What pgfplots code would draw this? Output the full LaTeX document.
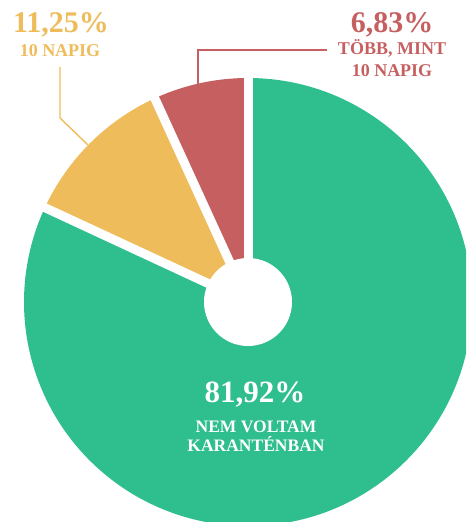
\documentclass[border=0pt]{standalone}
\usepackage{pgfplots}
\pgfplotsset{compat=1.18}
\usepackage{fontspec}
\setmainfont{Liberation Serif}
\definecolor{cgreen}{RGB}{47,190,142}
\definecolor{cyellow}{RGB}{239,188,91}
\definecolor{cred}{RGB}{198,96,96}
\begin{document}
\begin{tikzpicture}
\begin{axis}[x=1pt,y=1pt,xmin=0,xmax=466,ymin=0,ymax=522,hide axis,clip=true,anchor=origin,at={(0,0)}]
% shares (percent): 81.92, 11.25, 6.83 ; start at 90 deg, clockwise
\def\cx{248}\def\cy{220}\def\R{224pt}
\pgfmathsetmacro{\aA}{90}
\pgfmathsetmacro{\aB}{90-81.92*3.6}
\pgfmathsetmacro{\aC}{\aB-11.25*3.6}
\pgfmathsetmacro{\aD}{\aC-6.83*3.6}
\fill[cgreen] (axis cs:\cx,\cy) -- ++(\aA:\R) arc[start angle=\aA,end angle=\aB,radius=\R] -- cycle;
\fill[cyellow] (axis cs:\cx,\cy) -- ++(\aB:\R) arc[start angle=\aB,end angle=\aC,radius=\R] -- cycle;
\fill[cred] (axis cs:\cx,\cy) -- ++(\aC:\R) arc[start angle=\aC,end angle=\aD,radius=\R] -- cycle;
\draw[white,line width=9pt] (axis cs:\cx,\cy) -- ++(\aA:240pt);
\draw[white,line width=9pt] (axis cs:\cx,\cy) -- ++(\aB:240pt);
\draw[white,line width=9pt] (axis cs:\cx,\cy) -- ++(\aC:240pt);
\fill[white] (axis cs:\cx,\cy) circle[radius=44pt];
% leader lines
\draw[cyellow,line width=1.4pt] (axis cs:60,455) -- (axis cs:60,404) -- (axis cs:88,377);
\draw[cred,line width=1.4pt] (axis cs:327,472) -- (axis cs:198,472) -- (axis cs:198,436);
% labels
\node[anchor=base,text=cyellow,font=\fontsize{30}{36}\selectfont\bfseries,inner sep=0] at (axis cs:61,489) {11,25\%};
\node[anchor=base,text=cyellow,font=\fontsize{18}{22}\selectfont\bfseries,inner sep=0] at (axis cs:60,465) {10 NAPIG};
\node[anchor=base,text=cred,font=\fontsize{30}{36}\selectfont\bfseries,inner sep=0] at (axis cs:392,489) {6,83\%};
\node[anchor=base,text=cred,font=\fontsize{18}{22}\selectfont\bfseries,inner sep=0] at (axis cs:392,467) {TÖBB, MINT};
\node[anchor=base,text=cred,font=\fontsize{18}{22}\selectfont\bfseries,inner sep=0] at (axis cs:392,445) {10 NAPIG};
\node[anchor=base,text=white,font=\fontsize{31}{36}\selectfont\bfseries,inner sep=0] at (axis cs:255,119) {81,92\%};
\node[anchor=base,text=white,font=\fontsize{17.5}{21}\selectfont\bfseries,inner sep=0] at (axis cs:256,89) {NEM VOLTAM};
\node[anchor=base,text=white,font=\fontsize{17.5}{21}\selectfont\bfseries,inner sep=0] at (axis cs:256,70) {KARANTÉNBAN};
\end{axis}
\pgfresetboundingbox
\path (0,0) rectangle (466pt,522pt);
\end{tikzpicture}
\end{document}
